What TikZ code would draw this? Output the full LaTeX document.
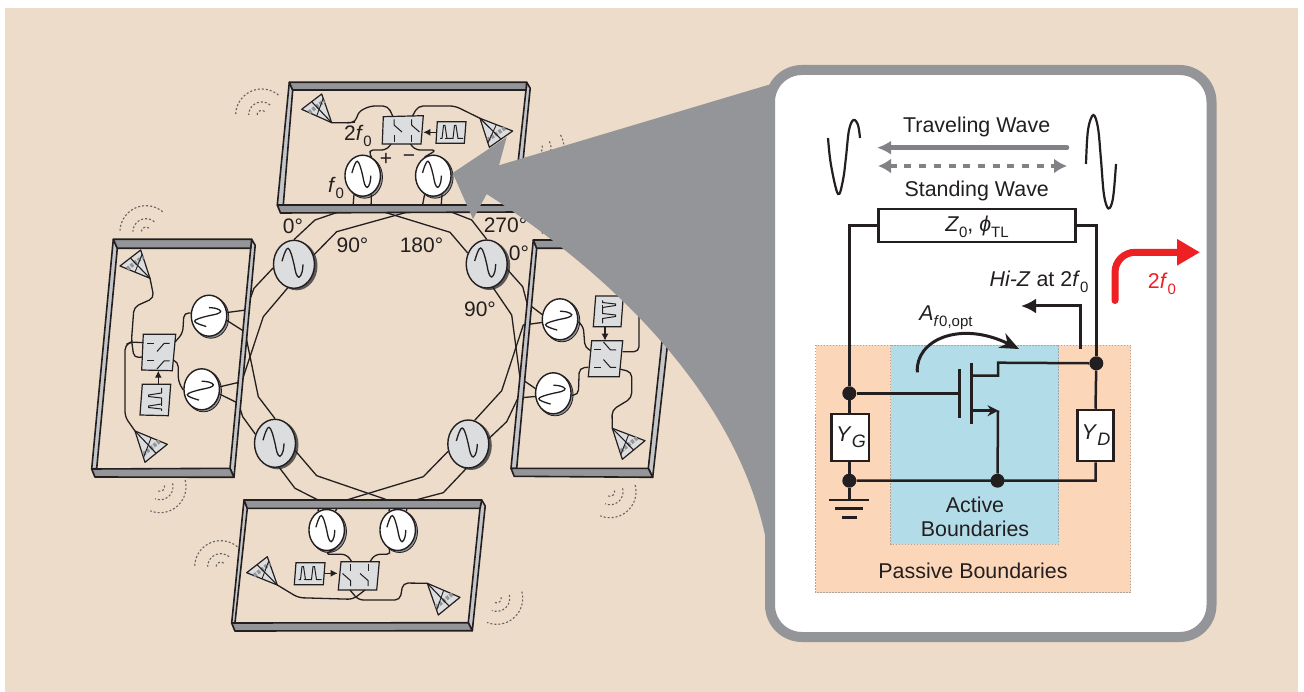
\documentclass[tikz,border=0pt]{standalone}
\usepackage{fontspec}
\setmainfont{Liberation Sans}
\usetikzlibrary{shapes.geometric,arrows.meta,calc}
\definecolor{bgc}{HTML}{ECDCC9}
\definecolor{gd}{HTML}{939598}
\definecolor{gm}{HTML}{C4C6C9}
\definecolor{gl}{HTML}{DCDDDF}
\definecolor{ink}{HTML}{231F20}
\definecolor{wavegray}{HTML}{808285}
\definecolor{passive}{HTML}{FBD6B9}
\definecolor{activec}{HTML}{B3DCE9}
\definecolor{redc}{HTML}{ED2024}
\tikzset{
  bigsrc/.style={ellipse,draw=ink,line width=1.4pt,fill=gl,minimum width=41pt,minimum height=48pt,inner sep=0pt},
  smallsrc/.style={ellipse,draw=ink,line width=1.4pt,fill=white,minimum width=35.5pt,minimum height=41pt,inner sep=0pt},
  wire/.style={draw=ink,line width=1.3pt},
  cwire/.style={draw=ink,line width=1.3pt,rounded corners=5pt},
  rail/.style={draw=ink,line width=1.6pt,line join=round},
  swbox/.style={draw=ink,line width=1.2pt,fill=gl},
  pbox/.style={draw=ink,line width=1.2pt,fill=gl},
  ckt/.style={draw=ink,line width=2.5pt},
  dotn/.style={circle,fill=ink,minimum size=14pt,inner sep=0pt},
  cbox/.style={draw=ink,line width=2.5pt,fill=white,inner sep=0pt},
  lbl/.style={text=ink,font=\fontsize{21.4}{25}\selectfont,inner sep=0pt,align=center},
  deg/.style={text=ink,font=\fontsize{21}{25}\selectfont,inner sep=0pt},
  bnd/.style={draw=gray!70,line width=.8pt,dash pattern=on 1.5pt off 1.5pt},
}
\newcommand\sinew[4]{\draw[ink,line width=1.3pt,shift={(#1,#2)},rotate=#4,scale=#3] plot[smooth,tension=.7] coordinates {(-12,-3)(-9,-12)(-6,-16)(-3,-11)(0,0)(2,9)(5,13)(8,8)(9,0)};}
\newcommand\bigosc[3]{\fill[ink!75] (#2+2.5,#3+1.5) ellipse [x radius=21,y radius=24.5];\node[bigsrc] (#1) at (#2,#3) {};\sinew{#2}{#3}{1}{0}}
\newcommand\smosc[4]{\fill[gd,draw=ink,line width=.8pt] (#2+1.8,#3+1.5) ellipse [x radius=18,y radius=21];\node[smallsrc] (#1) at (#2,#3) {};\sinew{#2}{#3}{.9}{#4}}
\newcommand\wv[4]{\foreach \rr in {4.5,13,26}{\draw[ink!70,line width=1.1pt,dash pattern=on 2pt off 2pt,domain=#3:#4,samples=24,smooth] plot ({#1+\rr*cos(\x)},{#2-\rr*sin(\x)});}}
\newcommand\ant[4]{\coordinate (#1) at (#2);\path (#3) coordinate (aB) (#4) coordinate (aC);
  \draw[fill=gl,draw=ink,line width=1.2pt,line join=round] (#1)--(aB)--(aC)--cycle;
  \draw[gd,line width=4pt,dash pattern=on 3pt off 1.5pt] ($(#1)!.76!(aB)$)--($(#1)!.76!(aC)$);
  \draw[ink,line width=1.1pt] (#1)--($(aB)!.5!(aC)$);
  \draw[ink,line width=.9pt] ($(#1)!.5!(aB)$)--($(#1)!.85!(aC)$);}
\newcommand\chipframe[8]{
  \draw[rail,fill=gm] (#3)--($(#3)+(3.5,6)$)--(#5)--(#6)--(#4)--cycle;
  \draw[rail,fill=gm] (#1)--(#2)--(#8)--(#7)--cycle;
  \draw[rail,fill=gd] (#1)--(#3)--(#4)--(#2)--cycle;
  \draw[rail,fill=gd] (#7)--(#6)--(#5)--($(#7)+(3.2,8)$)--cycle;}
\newcommand\switches[3]{\begin{scope}[shift={(#1)},#2,line width=1pt,ink]
  \foreach \sx in {-9,8.5}{\draw (\sx,-10.7)--(\sx,-5)--(\sx+8,2);\draw (\sx,5)--(\sx,11.7);}
  \end{scope}}
\newcommand\pulse[2]{\begin{scope}[shift={(#1)},rotate=#2]
  \draw[ink,line width=1pt,line join=round] (-11,6)--(-9,6)--(-7.5,-7)--(-6,-7)--(-4,6)--(2,6)--(3.5,-7)--(5,-7)--(7,6)--(12,6);
  \draw[ink,line width=1.8pt] (-6,6)--(-1,6) (7,6)--(11,6);
  \end{scope}}
\newcommand\subs[1]{\raisebox{-.28em}{\fontsize{15}{15}\selectfont #1}}
\newcommand\subg[1]{\raisebox{-.3em}{\fontsize{18}{18}\selectfont #1}}
\begin{document}
\begin{tikzpicture}[x=1pt,y=-1pt]
\useasboundingbox (0,0) rectangle (1304,692);
\fill[bgc] (5,8) rectangle (1298,692);
% radiated waves
\wv{261.7}{115}{50}{180}
\wv{146}{231.7}{50}{180}
\wv{220.7}{566.7}{50}{180}
\wv{160}{486.7}{15}{-112}
\wv{610}{491.7}{15}{-112}
\wv{496.7}{598.3}{15}{-112}
\wv{538}{148}{30}{-60}
\draw[ink!70,line width=1.1pt,dash pattern=on 2pt off 2pt] (540.5,224)--(542.5,234);
% sources
\bigosc{oTL}{294}{264.3}
\bigosc{oTR}{486.7}{264}
\bigosc{oBL}{275}{443.3}
\bigosc{oBR}{468.3}{444}
\smosc{sT1}{362.7}{175.7}{0}
\smosc{sT2}{433.3}{175.7}{0}
\smosc{sL1}{209}{315.7}{90}
\smosc{sL2}{201.7}{389.3}{90}
\smosc{sR1}{560}{319.3}{90}
\smosc{sR2}{553.3}{393.3}{90}
\smosc{sB1}{326.7}{530}{0}
\smosc{sB2}{397.7}{530}{0}
% ring wires
\draw[wire] (oTL.90)--(315,220)--(353,207)--(sT1.-115);
\draw[wire] (oTR.150)--(450,232.3)--(371,208)--(sT1.-65);
\draw[wire] (oTL.25)--(336.7,231.7)--(422,208)--(sT2.-115);
\draw[wire] (oTR.90)--(471.7,220)--(441,208)--(sT2.-65);
\draw[wire] (oTL.190)--(254,288.3)--(246,310)--(sL1.10);
\draw[wire] (oTL.-105)--(263.3,316.7)--(241.7,381.7)--(sL2.8);
\draw[wire] (sL1.-15)--(245,332)--(258.3,396.7)--(oBL.90);
\draw[wire] (sL2.-15)--(238.3,403.3)--(242.7,416.7)--(oBL.155);
\draw[wire] (oBL.-20)--(316.7,475.7)--(390.5,501)--(sB2.115);
\draw[wire] (oBL.-80)--(295,488.3)--(320,501)--(sB1.115);
\draw[wire] (oBR.200)--(423.3,476.7)--(340,502)--(sB1.65);
\draw[wire] (oBR.-95)--(443.3,492.7)--(408,502)--(sB2.65);
\draw[wire] (oTR.-15)--(522.7,286.7)--(527,303)--(sR1.165);
\draw[wire] (oTR.-75)--(511.7,315)--(520,378)--(sR2.165);
\draw[wire] (sR1.190)--(523.3,325)--(501.7,390.7)--(oBR.75);
\draw[wire] (sR2.190)--(518,398)--(506.7,421.7)--(oBR.15);
% chip frames
\chipframe{289.3,82.3}{292.7,90}{526.7,82.3}{526,90}{518,212}{513.4,205}{277.3,205}{283.3,205}
\chipframe{113.3,239.3}{117.3,248.3}{251.7,239.3}{250.7,248.3}{234,477.3}{230,468.3}{91.7,469}{96.7,468.5}
\chipframe{533.3,240}{536.7,248.3}{675,240}{672,248}{652.7,477.3}{648.3,468.3}{511,468.3}{516.7,468.3}
\chipframe{244,500}{247.3,508.3}{481.7,500}{480,508.3}{472.3,630.7}{468.3,622.7}{231.7,623}{235,622.7}
% top chip
\draw[swbox] (383.3,116.7)--(423.3,115.7)--(421,144)--(382.3,144)--cycle;
\draw[pbox] (437.3,121.7)--(466,121.7)--(464.3,143.3)--(436,143.3)--cycle;
\pulse{451,132.5}{0}
\switches{403,130}{}{}
\draw[ink,line width=1.2pt,-{Latex[length=7pt,width=7pt]}] (436.7,132.3)--(423.3,132.3);
\ant{aT1}{331.7,122.7}{301.7,109.3}{321.7,94}
\ant{aT2}{480,118.3}{512.7,131}{489.3,147.3}
\draw[cwire] (aT1)--(350,122.7)--(356,122)--(358,112)--(370,106)--(388,106)--(393,116.7);
\draw[cwire] (412.5,116)--(418,106)--(455,106)--(aT2);
\draw[cwire] (sT1.65)--(368,150)--(386.7,150)--(391,144);
\draw[cwire] (sT2.115)--(436.7,150)--(415,150)--(410.5,144);
% left chip
\draw[swbox] (143.3,334.3)--(175.7,334.3)--(172.3,370.7)--(141.7,370)--cycle;
\draw[pbox] (142.3,384.3)--(170.7,384.3)--(168.3,415.7)--(140,415)--cycle;
\pulse{155.5,400}{90}
\switches{159,352.5}{rotate=-90}{}
\draw[ink,line width=1.2pt,-{Latex[length=7pt,width=7pt]}] (158.3,384)--(158.3,370.7);
\ant{aL1}{150,278.3}{120,266}{140.7,250}
\ant{aL2}{135,431}{167.3,444.3}{145,462.3}
\draw[cwire] (aL1)--(154,298)--(134,307)--(131.5,340)--(134,358)--(142,357);
\draw[cwire] (aL2)--(125,416.7)--(125,345)--(131,342)--(143.3,342.7);
\draw[cwire] (sL1.172)--(184,312.5)--(182.7,333.3)--(175,342);
\draw[cwire] (sL2.182)--(178.3,381.7)--(178.3,362)--(173.3,360);
% right chip
\draw[swbox] (591.7,340.7)--(622.7,340.7)--(619.3,376.7)--(588.3,376.7)--cycle;
\draw[pbox] (595.7,296)--(623.3,296)--(621,326.7)--(593.3,326.7)--cycle;
\pulse{608.5,311.5}{-90}
\switches{605.5,358.5}{rotate=-90,xscale=-1}{}
\draw[ink,line width=1.2pt,-{Latex[length=7pt,width=7pt]}] (605,326.7)--(605,340.7);
\ant{aR1}{612.3,428.3}{645,440.7}{622.3,459.3}
\draw[cwire] (622.7,351.7)--(639,351.7)--(639,311.7);
\draw[cwire] (619.5,369)--(631.7,372)--(631.7,398)--(612,410)--(aR1);
\draw[cwire] (sR1.-8)--(583.3,326)--(585,348)--(591,350.7);
\draw[cwire] (sR2.-6)--(578.3,395)--(579.3,368)--(588.3,367.3);
% bottom chip
\draw[swbox] (341,561.7)--(379.3,561.7)--(376.7,590)--(338.3,590)--cycle;
\draw[pbox] (296,562.7)--(325,562.7)--(323.3,584.7)--(294.3,584.7)--cycle;
\pulse{309.5,573.5}{0}
\switches{359,575.5}{rotate=180}{}
\draw[ink,line width=1.2pt,-{Latex[length=7pt,width=7pt]}] (325,573.3)--(337.7,573.3);
\ant{aB1}{277.3,585}{246.7,572.7}{267.3,556.7}
\ant{aB2}{427.3,583.3}{460,597.3}{438.3,615}
\draw[cwire] (aB1)--(298.3,597.7)--(353,599.3)--(365,590);
\draw[cwire] (350,590)--(358.3,600)--(400,600)--(403,583)--(aB2);
\draw[cwire] (sB1.-65)--(325,554.3)--(346.7,554.3)--(351.7,561.7);
\draw[cwire] (sB2.-115)--(391.7,554.3)--(375,554.3)--(370,561.7);
% chip labels
\node[deg] (lb2f) at (358,136) {2\textit{f}\subs{0}};
\node[deg] (lbf) at (336,188) {\textit{f}\subs{0}};
\node[deg] (lbp) at (386,159) {+};
\node[deg] (lbm) at (409,158.5) {−};
\node[deg] (d0a) at (293,226.5) {0°};
\node[deg] (d90a) at (352.5,245) {90°};
\node[deg] (d180) at (421.5,245) {180°};
\node[deg] (d270) at (505.5,225) {270°};
\node[deg] (d0b) at (519,253.5) {0°};
\node[deg] (d90b) at (480,309.5) {90°};
% call-out wedge
\fill[gd] (452.7,173)--(506.7,137)--(499,165.3)--(768,85)--(790,85)--(790,560)--(765,560)--(765,535)
  .. controls (735,398) and (620,280) .. (486.7,194)--(473,219)--cycle;
\draw[gd,line width=10pt,fill=white,rounded corners=32pt] (770,70) rectangle (1211.5,637);
% boundaries
\draw[bnd,fill=passive] (815.7,345) rectangle (1130.7,592.7);
\draw[bnd,fill=activec] (890.7,345) rectangle (1058.7,544);
% circuit nodes
\node[cbox,minimum width=197.4pt,minimum height=33.3pt] (tl) at (977,225.6) {};
\node[lbl] (tltxt) at (977,227) {\textit{Z}\subs{0}, \textit{ϕ}\subs{TL}};
\node[cbox,minimum width=37.3pt,minimum height=46.7pt] (yg) at (850.3,437.6) {};
\node[cbox,minimum width=36.4pt,minimum height=51pt] (yd) at (1095.5,435.5) {};
\node[lbl] (ygt) at (851,437) {\textit{Y}\subg{\textit{G}}};
\node[lbl] (ydt) at (1096,435) {\textit{Y}\subg{\textit{D}}};
\node[dotn] (n1) at (849.3,393.3) {};
\node[dotn] (n2) at (1096.3,363.3) {};
\node[dotn] (n3) at (849.3,480.7) {};
\node[dotn] (n4) at (997.5,480.7) {};
\coordinate (gateT) at (959.7,369);
\coordinate (gateB) at (959.7,417.7);
\coordinate (gateM) at (959.7,393.3);
\coordinate (chT) at (971.3,362.7);
\coordinate (chB) at (971.3,424);
\coordinate (gnd) at (849.3,500);
% circuit wires
\draw[ckt] (tl.west)-|(n1);
\draw[ckt] (tl.east)-|(n2);
\draw[ckt] (n1)--(gateM);
\draw[ckt] (n2)--(yd.north) (yd.south)|-(n3);
\draw[ckt] (n1)--(n1|-yg.north) (n3|-yg.south)--(n3);
\draw[ckt] (n3)--(gnd);
\draw[ckt] (829,500)--(869,500) (835.3,508.7)--(862.7,508.7) (841.7,517.3)--(856.7,517.3);
\draw[ckt] (gateT)--(gateB) (chT)--(chB);
\draw[ckt] (971.3,375.7)-|(998,362.7)--(n2);
\draw[ckt,line join=miter] (998,410.7)--(n4);
\draw[ckt,-{Stealth[length=11pt,width=11pt]}] (971.3,410.7)--(998.5,410.7);
% Hi-Z and amplitude arrows
\coordinate (hz0) at (1080,349);
\coordinate (hz1) at (1021,306);
\draw[ink,line width=3pt,-{Latex[length=15pt,width=15pt]}] (hz0)|-(hz1);
\coordinate (am0) at (917.3,372.3);
\coordinate (am1) at (1019,349);
\draw[ink,line width=3pt,-{Stealth[length=19pt,width=16pt]}] (am0) .. controls (915,340) and (960,320) .. (am1);
\node[lbl] (hz) at (1039,282) {\textit{Hi-Z} at 2\textit{f}\subs{0}};
\node[lbl] (af) at (946,318) {\textit{A}\subs{\textit{f}0,opt}};
% waves and wave arrows
\node[lbl] (tw) at (976.7,127) {Traveling Wave};
\node[lbl] (sw) at (976.7,191) {Standing Wave};
\coordinate (twR) at (1067,147.7);
\coordinate (twL) at (877,147.7);
\coordinate (swL) at (878,166);
\coordinate (swR) at (1067,166);
\draw[wavegray,line width=4.5pt,line cap=round,-{Latex[length=14pt,width=14pt]}] (twR)--(twL);
\draw[wavegray,line width=4pt,dash pattern=on 7pt off 7.7pt,{Latex[length=13pt,width=15pt]}-{Latex[length=13pt,width=15pt]}] (swL)--(swR);
\draw[ink,line width=2.2pt] plot[smooth,tension=.6] coordinates {(828,138)(831,165)(838,194)(843,180)(846,157)(849,130)(853.5,120)(858,125)(860,138)};
\draw[ink,line width=2.2pt] plot[smooth,tension=.6] coordinates {(1086,164)(1088,130)(1093.3,115)(1098,128)(1101,160)(1104,195)(1108.5,208.5)(1113,198)(1116,164)};
% red arrow
\coordinate (r0) at (1115,300.5);
\coordinate (r1) at (1200,252.3);
\draw[redc,line width=7pt,line cap=round,rounded corners=20pt,-{Triangle[length=23pt,width=25pt]}] (r0)|-(r1);
\node[lbl,text=redc] (r2) at (1162,284) {2\textit{f}\subs{0}};
% boundary labels
\node[lbl,text width=160pt] (act) at (975,517) {Active\\[-1pt]Boundaries};
\node[lbl] (pas) at (973,571) {Passive Boundaries};
\end{tikzpicture}
\end{document}
